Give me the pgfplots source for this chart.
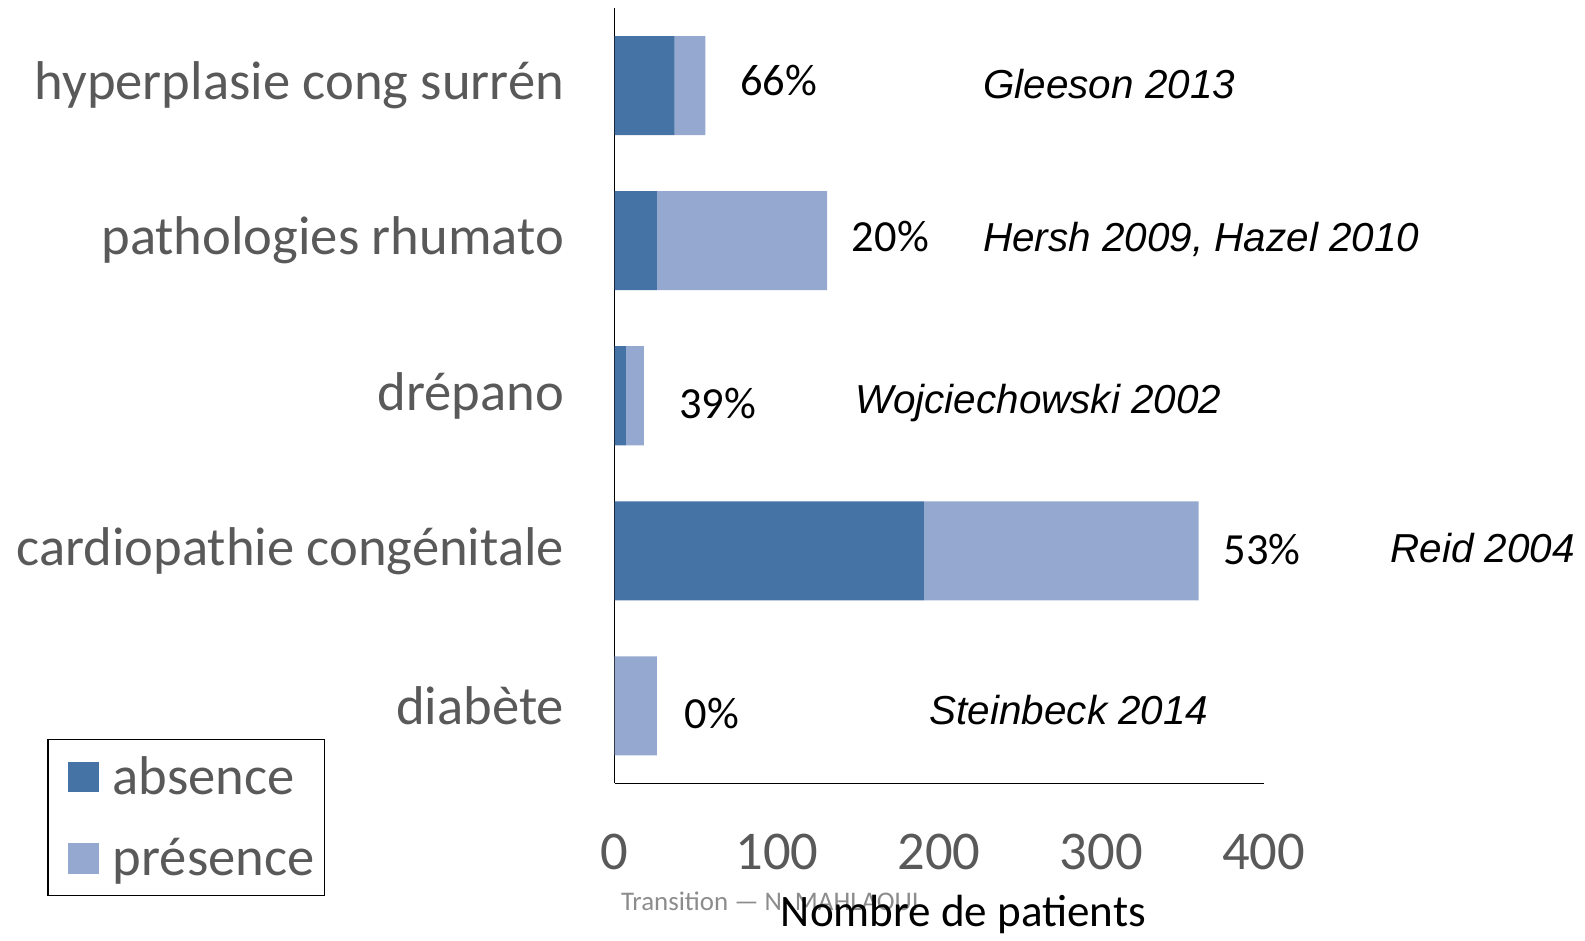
\documentclass[border=0pt]{standalone}
\usepackage{fontspec}
\setmainfont{Carlito}
\newfontfamily\arialfont{Liberation Sans}
\usepackage{pgfplots}
\pgfplotsset{compat=1.18}
\definecolor{dark}{HTML}{4673A6}
\definecolor{light}{HTML}{95A9D0}
\definecolor{txtgray}{HTML}{595959}
\definecolor{footgray}{HTML}{8C8C8C}
\begin{document}
\begin{tikzpicture}
\path[use as bounding box] (-304pt,-77.5pt) rectangle (480pt,387.5pt);
\begin{axis}[
  at={(0pt,0pt)}, anchor=south west,
  scale only axis, width=321pt, height=383.5pt,
  xbar stacked, bar width=49pt,
  xmin=0, xmax=400, ymin=-0.5, ymax=4.5,
  enlargelimits=false, clip=false,
  axis x line*=bottom, axis y line*=left,
  axis line style={line width=0.75pt, black},
  major tick length=0pt,
  xtick={0,100,200,300,400},
  ytick={0,1,2,3,4},
  yticklabels={diabète, cardiopathie congénitale, drépano, pathologies rhumato, hyperplasie cong surrén},
  tick label style={font=\fontsize{27}{30}\selectfont, text=txtgray},
  /pgf/number format/assume math mode=true,
  yticklabel style={xshift=-21.5pt},
  xticklabel style={yshift=-21.5pt},
  xlabel={Nombre de patients},
  xlabel style={at={(axis description cs:0.5375,0)}, anchor=center, yshift=-65pt, font=\fontsize{22.3}{24}\selectfont, text=black},
  legend style={at={(axis description cs:-0.874,0.0574)}, anchor=north west,
    draw=black, line width=0.75pt, text=txtgray,
    inner xsep=3pt, inner ysep=6.5pt, row sep=16pt,
    /tikz/every odd column/.append style={column sep=5pt},
    font=\fontsize{27}{30}\selectfont, legend cell align=left},
  legend image code/.code={\path (0pt,0pt); \fill[#1,draw=none] (7pt,-7.5pt) rectangle (22pt,7.5pt);},
]
\addplot[fill=dark, draw=none] coordinates {(0,0) (191,1) (7,2) (26,3) (37,4)};
\addplot[fill=light, draw=none] coordinates {(26,0) (169,1) (11,2) (105,3) (19,4)};
\legend{absence, présence}

\node[font=\fontsize{22}{24}\selectfont] at (axis cs:101,4.03) {66\%};
\node[font=\fontsize{22}{24}\selectfont] at (axis cs:170,3.03) {20\%};
\node[font=\fontsize{22}{24}\selectfont] at (axis cs:63.5,1.95) {39\%};
\node[font=\fontsize{22}{24}\selectfont] at (axis cs:399,1.01) {53\%};
\node[font=\fontsize{22}{24}\selectfont] at (axis cs:60,-0.05) {0\%};

\node[anchor=west, inner sep=0pt, font=\arialfont\itshape\fontsize{20}{22}\selectfont] at (axis cs:227,4.01) {Gleeson 2013};
\node[anchor=west, inner sep=0pt, font=\arialfont\itshape\fontsize{20}{22}\selectfont] at (axis cs:227,3.01) {Hersh 2009, Hazel 2010};
\node[anchor=west, inner sep=0pt, font=\arialfont\itshape\fontsize{20}{22}\selectfont] at (axis cs:148,1.95) {Wojciechowski 2002};
\node[anchor=west, inner sep=0pt, font=\arialfont\itshape\fontsize{20}{22}\selectfont] at (axis cs:478,1.02) {Reid 2004};
\node[anchor=west, inner sep=0pt, font=\arialfont\itshape\fontsize{20}{22}\selectfont] at (axis cs:194,-0.03) {Steinbeck 2014};

\node[anchor=west, inner sep=0pt, text=footgray, font=\fontsize{13.3}{15}\selectfont] at (axis cs:0,-0.5) [xshift=3pt, yshift=-58.5pt] {Transition — N. MAHLAOUI};
\end{axis}
\end{tikzpicture}
\end{document}
